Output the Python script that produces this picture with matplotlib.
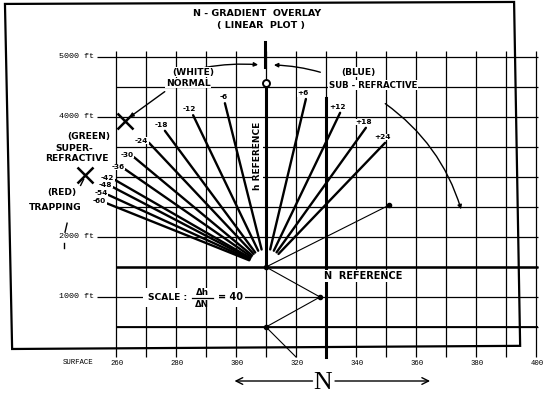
import numpy as np
import matplotlib.pyplot as plt
from matplotlib.patches import FancyArrowPatch, Rectangle, Polygon

# N-gradient fan (N units / 1000 ft) - outer ends
grad_neg = [-6, -12, -18, -24, -30, -36, -42, -48, -54, -60]
neg_N = [296.3, 285.7, 276.3, 271.0, 266.0, 263.0, 259.7, 259.0, 257.5, 257.0]
neg_h = [4230, 4030, 3770, 3570, 3330, 3130, 2950, 2830, 2700, 2560]
grad_pos = [6, 12, 18, 24]
pos_N = [323.3, 334.7, 343.3, 349.7]
pos_h = [4300, 4070, 3820, 3570]

ref_N, ref_h = 310, 1500      # crossing of h and N reference
zero_N, zero_h = 310, 4520    # "0" gradient circle
nref_top = 4320               # top of the N reference line

# example profile plotted on the overlay
prof_N = [310, 328, 310, 320]
prof_h = [1500, 1000, 500, 0]
ray_N = [310, 351]
ray_h = [1500, 2530]

n_ticks = [260, 280, 300, 320, 340, 360, 380, 400]
h_marks = [5000, 4000, 2000, 1000]
h_names = ['5000 ft', '4000 ft', '2000 ft', '1000 ft']

# markers for the refraction classes
x_marks_N = [263.0, 249.7]
x_marks_h = [3933, 3030]

BOLD = ['Liberation Sans Narrow', 'DejaVu Sans']

fig = plt.figure(figsize=(5.51, 3.93), dpi=100)
ax = fig.add_axes([0, 0, 1, 1])
ax.set_xlim(221.33, 405)
ax.set_ylim(-600, 5950)
ax.axis('off')

# outer frame of the sheet
frame = Polygon([(0.009, 0.990), (0.933, 0.995), (0.944, 0.120), (0.022, 0.112)],
                closed=True, fill=False, lw=1.6, ec='black', transform=ax.transAxes)
ax.add_patch(frame)

# grid
ax.vlines(np.arange(260, 401, 10), 0, 5100, color='black', lw=0.9, zorder=1)
ax.hlines(np.arange(500, 5001, 500), 260, 400.7, color='black', lw=0.9, zorder=1)
ax.hlines([1500], 260, 400.7, color='black', lw=1.8, zorder=1)
ax.hlines([500], 260, 400.7, color='black', lw=1.3, zorder=1)
ax.hlines(h_marks, 253.5, 260, color='black', lw=0.9, zorder=1)

# reference lines
ax.plot([ref_N, zero_N], [ref_h, zero_h], color='black', lw=2.2, zorder=3)
ax.plot([330, 330], [0, nref_top], color='black', lw=2.2, zorder=3)
ax.plot([309.5, 309.5], [4830, 5250], color='black', lw=2.2, zorder=3)
ax.plot(zero_N, zero_h + 40, 'o', ms=5, mfc='white', mec='black', mew=1.4, zorder=5)

# fan lines
for n, h in zip(neg_N + pos_N, neg_h + pos_h):
    ax.annotate('', xy=(n, h), xytext=(ref_N, ref_h),
                arrowprops=dict(arrowstyle='-', shrinkA=13, shrinkB=0, lw=1.7, color='black'),
                zorder=3)

lab = dict(fontsize=5.3, fontweight='bold', family=BOLD, zorder=6,
           bbox=dict(fc='white', ec='none', pad=0.2))
for g, n, h in zip(grad_neg, neg_N, neg_h):
    if g >= -18:
        ax.annotate('-%d' % -g, (n, h), xytext=(2, 2), textcoords='offset points',
                    ha='right', va='bottom', **lab)
    else:
        ax.annotate('-%d' % -g, (n, h), xytext=(-0.5, 1.5), textcoords='offset points',
                    ha='right', va='center', **lab)
for g, n, h in zip(grad_pos, pos_N, pos_h):
    ax.annotate('+%d' % g, (n, h), xytext=(-2, 2), textcoords='offset points',
                ha='center', va='bottom', **lab)

# example profile
ax.plot(prof_N, prof_h, color='black', lw=0.8, zorder=3)
ax.plot(ray_N, ray_h, color='black', lw=0.8, zorder=3)
ax.plot(prof_N[:3] + ray_N[1:], prof_h[:3] + ray_h[1:], 'o', color='black', ms=3, zorder=4)

# X markers
ax.plot(x_marks_N, x_marks_h, 'x', color='black', ms=11, mew=1.8, zorder=4)
ax.plot([249.2, 248.2], [2960, 2860], color='black', lw=1.0)
ax.plot([243.7, 243.0], [2230, 2080], color='black', lw=1.0)
ax.plot([242.7, 242.7], [1900, 1820], color='black', lw=1.0)

# arrows of the class labels
arr = dict(arrowstyle='-|>', mutation_scale=6, lw=1.0, color='black', zorder=4)
ax.add_patch(FancyArrowPatch((288.7, 4817), (308.3, 4867), connectionstyle='arc3,rad=-0.07', **arr))
ax.add_patch(FancyArrowPatch((329.0, 4733), (311.7, 4867), connectionstyle='arc3,rad=0.07', **arr))
ax.add_patch(FancyArrowPatch((349.0, 4250), (375.3, 2417), connectionstyle='arc3,rad=-0.175', **arr))
ax.add_patch(FancyArrowPatch((277.0, 4450), (263.7, 3967), **arr))

# texts
ax.text(307, 5730, 'N - GRADIENT  OVERLAY', ha='center', va='center', fontsize=6.8,
        fontweight='bold', family=BOLD)
ax.text(308.3, 5530, '( LINEAR  PLOT )', ha='center', va='center', fontsize=6.8,
        fontweight='bold', family=BOLD)

t = dict(ha='center', va='center', fontsize=6.6, fontweight='bold', family=BOLD, zorder=6,
         bbox=dict(fc='white', ec='none', pad=0.3))
ax.text(285.7, 4750, '(WHITE)', **t)
ax.text(284.0, 4560, 'NORMAL', **t)
ax.text(340.7, 4750, '(BLUE)', **t)
ax.text(345.7, 4530, 'SUB - REFRACTIVE', **dict(t, fontsize=6.2))
ax.text(251.0, 3680, '(GREEN)', **t)
ax.text(246.0, 3470, 'SUPER-', **t)
ax.text(247.0, 3300, 'REFRACTIVE', **t)
ax.text(242.0, 2750, '(RED)', **t)
ax.text(239.7, 2500, 'TRAPPING', **t)

ax.text(307.3, 3350, 'h REFERENCE', rotation=90, ha='center', va='center', fontsize=6.5,
        fontweight='bold', family=BOLD, zorder=6, bbox=dict(fc='white', ec='none', pad=0.2))
ax.text(329.2, 1350, 'N  REFERENCE', ha='left', va='center', fontsize=7,
        fontweight='bold', family=BOLD, zorder=6, bbox=dict(fc='white', ec='none', pad=0.5))

# scale note
ax.add_patch(Rectangle((269, 830), 34, 320, fc='white', ec='none', zorder=2))
ax.text(270.6, 1000, 'SCALE :', ha='left', va='center', fontsize=6.6, fontweight='bold',
        family=BOLD, zorder=6)
ax.text(288.8, 1080, '\u0394h', ha='center', va='center', fontsize=6.3, fontweight='bold',
        family=BOLD, zorder=6)
ax.text(288.8, 880, '\u0394N', ha='center', va='center', fontsize=6.3, fontweight='bold',
        family=BOLD, zorder=6)
ax.plot([285.2, 292.4], [990, 990], color='black', lw=0.9, zorder=6)
ax.text(294.0, 1000, '= 40', ha='left', va='center', fontsize=7.0, fontweight='bold',
        family=BOLD, zorder=6)

# height labels
for h, s in zip(h_marks, h_names):
    ax.text(252.5, h, s, ha='right', va='center', fontsize=6.0, family='Liberation Mono')
ax.text(252.5, -90, 'SURFACE', ha='right', va='center', fontsize=5.3, family='Liberation Mono')

for n in n_ticks:
    ax.text(n + 0.5, -110, str(n), ha='center', va='center', fontsize=5.2,
            family='Liberation Mono')

# N axis arrow
ax.text(329, -440, 'N', ha='center', va='center', fontsize=18.5, family='Liberation Serif')
ax.annotate('', xy=(299.5, -400), xytext=(325.5, -400),
            arrowprops=dict(arrowstyle='->', lw=1.0, color='black', mutation_scale=12,
                            shrinkA=0, shrinkB=0))
ax.annotate('', xy=(364.7, -400), xytext=(333.0, -400),
            arrowprops=dict(arrowstyle='->', lw=1.0, color='black', mutation_scale=12,
                            shrinkA=0, shrinkB=0))

fig.savefig('out.png', dpi=100, facecolor='white')
